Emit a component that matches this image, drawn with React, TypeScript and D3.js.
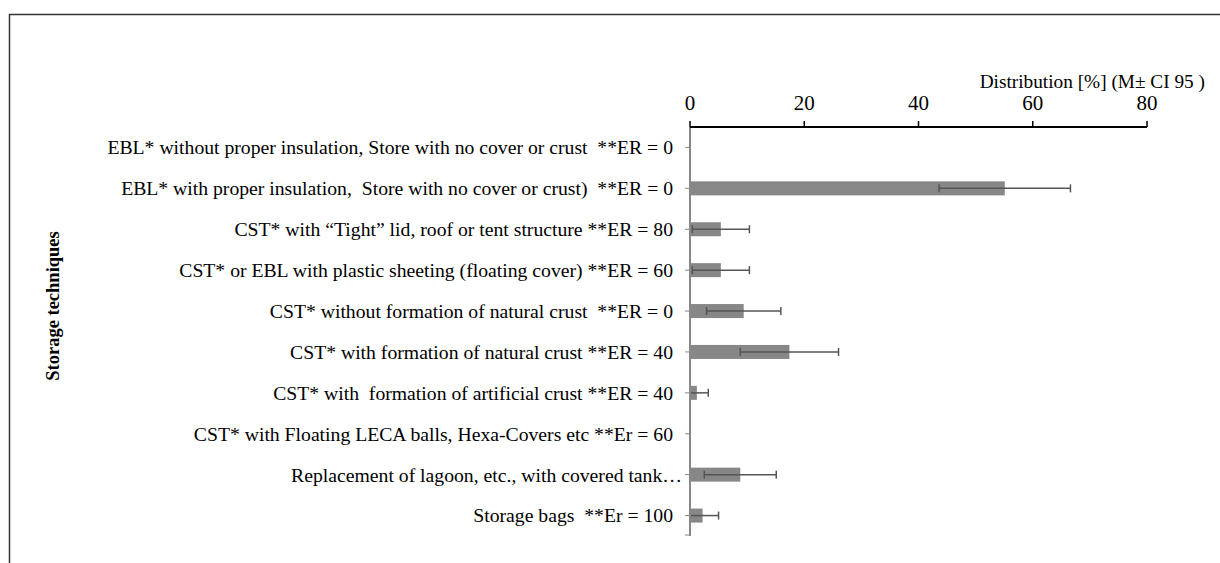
import * as d3 from "d3"

const categories = [
  "EBL* without proper insulation, Store with no cover or crust  **ER = 0",
  "EBL* with proper insulation,  Store with no cover or crust)  **ER = 0",
  "CST* with \u201cTight\u201d lid, roof or tent structure **ER = 80",
  "CST* or EBL with plastic sheeting (floating cover) **ER = 60",
  "CST* without formation of natural crust  **ER = 0",
  "CST* with formation of natural crust **ER = 40",
  "CST* with  formation of artificial crust **ER = 40",
  "CST* with Floating LECA balls, Hexa-Covers etc **Er = 60",
  "Replacement of lagoon, etc., with covered tank\u2026",
  "Storage bags  **Er = 100",
]
const means = [0, 55.1, 5.4, 5.4, 9.4, 17.4, 1.2, 0, 8.8, 2.2]
const ci = [0, 11.5, 5.0, 5.0, 6.5, 8.6, 2.0, 0, 6.3, 2.8]
const xTicks = [0, 20, 40, 60, 80]

const W = 1220
const H = 563
const serif = "'Liberation Serif', 'Times New Roman', serif"

export default function App() {
  const x = d3.scaleLinear().domain([0, 80]).range([690, 1147])
  const y = d3.scaleBand().domain(categories).range([127, 536])
  const barH = 14
  const axisY = 127

  return (
    <svg
      width={W}
      height={H}
      style={{ position: "absolute", left: 0, top: 0, background: "#fff" }}
      fontFamily={serif}
    >
      {/* frame */}
      <path d={`M9.5,${H} V14.5 H${W}`} fill="none" stroke="#333" strokeWidth={1.5} />

      {/* axis title */}
      <text x={1205} y={88} textAnchor="end" fontSize={19.3} fill="#000">
        Distribution [%] (M± CI 95 )
      </text>

      {/* bars */}
      {means.map((m, i) => {
        const cy = (y(categories[i]) || 0) + y.bandwidth() / 2
        return m > 0 ? (
          <rect
            key={"b" + i}
            x={x(0)}
            y={cy - barH / 2}
            width={x(m) - x(0)}
            height={barH}
            fill="#878787"
          />
        ) : null
      })}

      {/* error bars */}
      {means.map((m, i) => {
        if (m <= 0) return null
        const cy = (y(categories[i]) || 0) + y.bandwidth() / 2
        const lo = Math.max(0, m - ci[i])
        const hi = m + ci[i]
        return (
          <g key={"e" + i} stroke="#555" strokeWidth={1.5}>
            <line x1={x(lo)} x2={x(hi)} y1={cy} y2={cy} />
            {m - ci[i] > 0 && <line x1={x(lo)} x2={x(lo)} y1={cy - 4} y2={cy + 4} />}
            <line x1={x(hi)} x2={x(hi)} y1={cy - 4} y2={cy + 4} />
          </g>
        )
      })}

      {/* y axis */}
      <line x1={x(0)} x2={x(0)} y1={axisY} y2={536} stroke="#888" strokeWidth={2} />
      {categories.map((c, i) => {
        const cy = (y(c) || 0) + y.bandwidth() / 2
        return (
          <g key={"y" + i}>
            <line x1={x(0) - 5} x2={x(0)} y1={cy} y2={cy} stroke="#888" strokeWidth={1} />
            <text
              x={i === 8 ? 682 : 673}
              y={cy}
              dy="0.35em"
              textAnchor="end"
              fontSize={19.7}
              fill="#000"
              style={{ whiteSpace: "pre" }}
            >
              {c}
            </text>
          </g>
        )
      })}
      <line x1={x(0) - 5} x2={x(0)} y1={535} y2={535} stroke="#888" strokeWidth={1} />

      {/* top x axis */}
      <line x1={x(0)} x2={x(80)} y1={axisY} y2={axisY} stroke="#000" strokeWidth={2} />
      {xTicks.map((t) => (
        <g key={"t" + t}>
          <line x1={x(t)} x2={x(t)} y1={axisY - 6} y2={axisY} stroke="#000" strokeWidth={1.5} />
          <text x={x(t)} y={109.5} textAnchor="middle" fontSize={21} fill="#000">
            {t}
          </text>
        </g>
      ))}

      {/* y title */}
      <text
        transform={`translate(59,306) rotate(-90)`}
        textAnchor="middle"
        fontSize={18.5}
        fontWeight="bold"
        fill="#000"
      >
        Storage techniques
      </text>
    </svg>
  )
}
